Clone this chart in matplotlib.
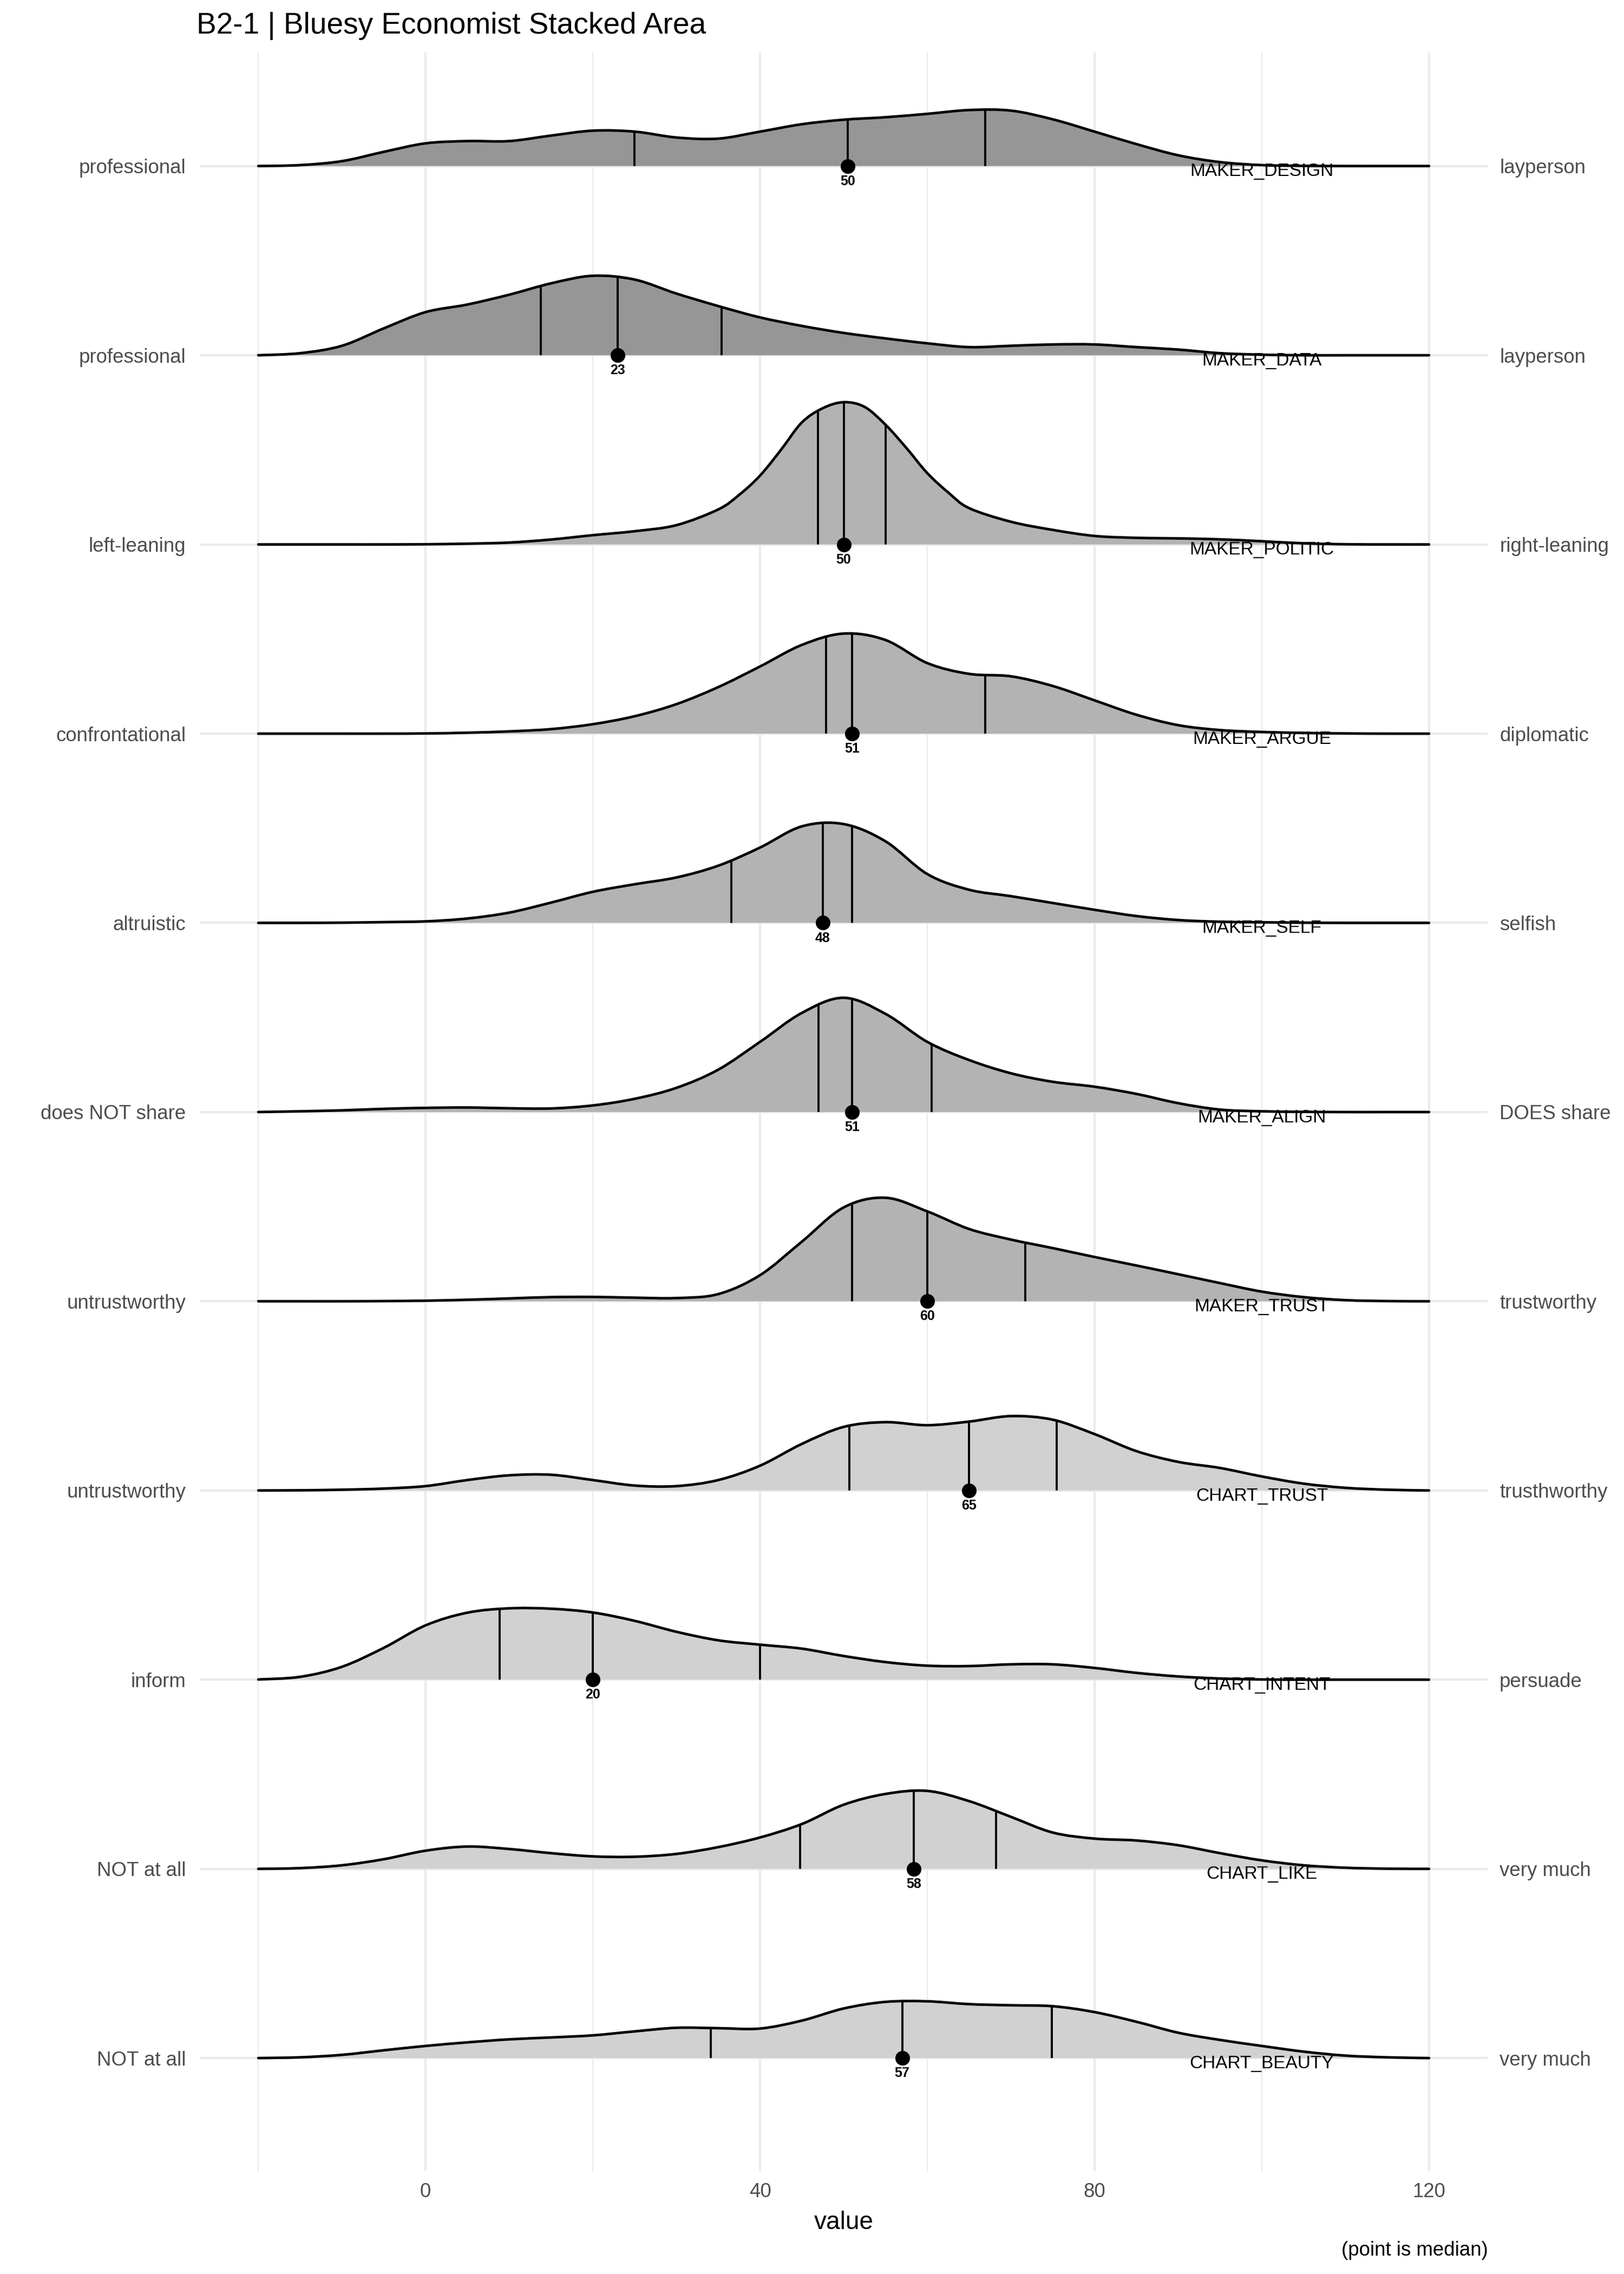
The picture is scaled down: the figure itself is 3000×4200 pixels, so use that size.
import numpy as np
import matplotlib
matplotlib.use("Agg")
import matplotlib.pyplot as plt
from matplotlib.path import Path
from matplotlib.patches import PathPatch

plt.rcParams['font.family'] = ['Liberation Sans', 'DejaVu Sans']

# rows from top to bottom
categories = ["MAKER_DESIGN", "MAKER_DATA", "MAKER_POLITIC", "MAKER_ARGUE", "MAKER_SELF",
              "MAKER_ALIGN", "MAKER_TRUST", "CHART_TRUST", "CHART_INTENT", "CHART_LIKE",
              "CHART_BEAUTY"]
left_labels = ["professional", "professional", "left-leaning", "confrontational", "altruistic",
               "does NOT share", "untrustworthy", "untrustworthy", "inform", "NOT at all",
               "NOT at all"]
right_labels = ["layperson", "layperson", "right-leaning", "diplomatic", "selfish",
                "DOES share", "trustworthy", "trusthworthy", "persuade", "very much",
                "very much"]
fills = ["#969696", "#969696", "#B3B3B3", "#B3B3B3", "#B3B3B3", "#B3B3B3", "#B3B3B3",
         "#D1D1D1", "#D1D1D1", "#D1D1D1", "#D1D1D1"]

# density heights (in row units) read at x = -20, -15, ..., 120
grid_x = list(range(-20, 125, 5))
design_h = [0, 0.005, 0.026, 0.075, 0.12, 0.132, 0.132, 0.161, 0.187, 0.182, 0.151, 0.145,
            0.182, 0.221, 0.245, 0.258, 0.276, 0.296, 0.293, 0.247, 0.182, 0.116, 0.057,
            0.021, 0.005, 0.001, 0, 0, 0]
data_h = [0, 0.011, 0.05, 0.142, 0.228, 0.268, 0.32, 0.38, 0.42, 0.40, 0.326, 0.26, 0.20,
          0.155, 0.118, 0.089, 0.063, 0.043, 0.05, 0.057, 0.057, 0.043, 0.03, 0.011, 0.003,
          0, 0, 0, 0]
politic_x = [-20, -15, -10, -5, 0, 5, 10, 15, 20, 25, 30, 35, 37.5, 40, 42.5, 45, 47.5, 50,
             52.5, 55, 57.5, 60, 62.5, 65, 70, 75, 80, 85, 90, 95, 100, 105, 110, 115, 120]
politic_h = [0, 0, 0, 0, 0.001, 0.004, 0.01, 0.026, 0.049, 0.07, 0.102, 0.185, 0.262,
             0.364, 0.50, 0.645, 0.72, 0.752, 0.727, 0.633, 0.51, 0.377, 0.275, 0.192, 0.12,
             0.077, 0.045, 0.035, 0.032, 0.027, 0.017, 0.006, 0.001, 0, 0]
argue_h = [0, 0, 0, 0, 0.001, 0.005, 0.012, 0.024, 0.05, 0.092, 0.156, 0.246, 0.355, 0.469,
           0.529, 0.495, 0.373, 0.316, 0.303, 0.252, 0.176, 0.10, 0.045, 0.019, 0.009,
           0.004, 0.001, 0, 0]
self_h = [0, 0, 0.001, 0.004, 0.008, 0.023, 0.054, 0.107, 0.164, 0.204, 0.24, 0.302, 0.398,
          0.51, 0.522, 0.431, 0.258, 0.175, 0.141, 0.105, 0.069, 0.036, 0.015, 0.006, 0.003,
          0.001, 0, 0, 0]
align_h = [0, 0.004, 0.009, 0.017, 0.022, 0.024, 0.02, 0.019, 0.035, 0.07, 0.128, 0.224,
           0.371, 0.524, 0.604, 0.519, 0.371, 0.275, 0.205, 0.16, 0.134, 0.096, 0.047, 0.013,
           0.004, 0.001, 0, 0, 0]
maker_trust_h = [0, 0, 0, 0.001, 0.003, 0.008, 0.015, 0.022, 0.023, 0.019, 0.017, 0.038,
                 0.138, 0.315, 0.496, 0.547, 0.475, 0.382, 0.326, 0.281, 0.234, 0.189, 0.143,
                 0.096, 0.051, 0.022, 0.006, 0.001, 0]
chart_trust_h = [0, 0.001, 0.004, 0.01, 0.023, 0.055, 0.08, 0.083, 0.055, 0.026, 0.023,
                 0.055, 0.131, 0.246, 0.336, 0.361, 0.345, 0.364, 0.393, 0.374, 0.298, 0.208,
                 0.151, 0.119, 0.074, 0.036, 0.014, 0.004, 0]
intent_h = [0.001, 0.015, 0.068, 0.168, 0.287, 0.354, 0.377, 0.375, 0.355, 0.311, 0.253,
            0.208, 0.185, 0.164, 0.125, 0.093, 0.074, 0.072, 0.081, 0.081, 0.062, 0.036,
            0.017, 0.006, 0.001, 0, 0, 0, 0]
like_h = [0, 0.004, 0.019, 0.051, 0.096, 0.118, 0.105, 0.083, 0.066, 0.064, 0.079, 0.115,
          0.166, 0.237, 0.339, 0.396, 0.412, 0.358, 0.275, 0.192, 0.16, 0.15, 0.125, 0.083,
          0.045, 0.019, 0.006, 0.001, 0]
beauty_h = [0, 0.004, 0.017, 0.041, 0.064, 0.083, 0.099, 0.109, 0.12, 0.141, 0.16, 0.158,
            0.156, 0.198, 0.262, 0.297, 0.30, 0.285, 0.279, 0.274, 0.243, 0.192, 0.134,
            0.096, 0.064, 0.034, 0.013, 0.004, 0]

q1 = [25.0, 13.75, 46.9, 47.9, 36.6, 47.0, 51.0, 50.7, 8.85, 44.8, 34.1]
medians = [50.5, 23.0, 50.0, 51.0, 47.5, 51.0, 60.0, 65.0, 20.0, 58.4, 57.0]
q3 = [66.9, 35.4, 55.0, 66.9, 51.0, 60.5, 71.7, 75.5, 40.0, 68.2, 74.9]
median_labels = ["50", "23", "50", "51", "48", "51", "60", "65", "20", "58", "57"]

xs_list = [grid_x, grid_x, politic_x] + [grid_x] * 8
hs_list = [design_h, data_h, politic_h, argue_h, self_h, align_h, maker_trust_h,
           chart_trust_h, intent_h, like_h, beauty_h]


def ridge_path(xs, hs, base):
    # smooth curve through the read points (Catmull-Rom as cubic Bezier)
    pts = np.column_stack([np.asarray(xs, float), base + np.asarray(hs, float)])
    n = len(pts)
    verts = [pts[0]]
    codes = [Path.MOVETO]
    for i in range(n - 1):
        p0 = pts[max(i - 1, 0)]
        p1 = pts[i]
        p2 = pts[i + 1]
        p3 = pts[min(i + 2, n - 1)]
        verts += [p1 + (p2 - p0) / 6, p2 - (p3 - p1) / 6, p2]
        codes += [Path.CURVE4] * 3
    return verts, codes


fig = plt.figure(figsize=(10, 14), dpi=300)
ax = fig.add_axes([0.123, 0.0452, 0.793, 0.9317])
n_rows = len(categories)
rows = [n_rows - 1 - i for i in range(n_rows)]

ax.set_xlim(-27, 127)
ax.set_ylim(-0.598, 10.6)
ax.set_xticks([0, 40, 80, 120])
ax.set_xticks([-20, 20, 60, 100], minor=True)
ax.set_yticks(rows)
ax.set_yticklabels(left_labels)
ax.grid(which='major', color='#EBEBEB', linewidth=1.07)
ax.grid(which='minor', axis='x', color='#EBEBEB', linewidth=0.53)
ax.set_axisbelow(True)
for s in ax.spines.values():
    s.set_visible(False)
ax.tick_params(which='both', length=0)
ax.tick_params(axis='y', pad=6.2, labelsize=8.8, labelcolor='#4D4D4D')
ax.tick_params(axis='x', pad=5, labelsize=8.8, labelcolor='#4D4D4D')
ax.set_xlabel('value', fontsize=11, labelpad=4)

for i in range(n_rows):
    base = rows[i]
    verts, codes = ridge_path(xs_list[i], hs_list[i], base)
    fverts = verts + [(xs_list[i][-1], base), (xs_list[i][0], base), (0, 0)]
    fcodes = codes + [Path.LINETO, Path.LINETO, Path.CLOSEPOLY]
    area = PathPatch(Path(fverts, fcodes), facecolor=fills[i], edgecolor='none', zorder=2)
    ax.add_patch(area)
    for q in (q1[i], medians[i], q3[i]):
        ln, = ax.plot([q, q], [base, base + 1], color='black', lw=0.95, zorder=3)
        ln.set_clip_path(area)
    ax.add_patch(PathPatch(Path(verts, codes), fill=False, edgecolor='black',
                           lw=1.15, zorder=4, capstyle='round'))
    ax.plot(medians[i], base, 'o', color='black', ms=5.5, zorder=5, clip_on=False)
    ax.text(medians[i], base - 0.046, median_labels[i], ha='center', va='top',
            fontsize=6, fontweight='bold', zorder=5)
    ax.text(100, base + 0.015, categories[i], ha='center', va='top', fontsize=8,
            color='black', zorder=5)

ax2 = ax.twinx()
ax2.set_ylim(ax.get_ylim())
ax2.set_yticks(rows)
ax2.set_yticklabels(right_labels)
for s in ax2.spines.values():
    s.set_visible(False)
ax2.tick_params(length=0, pad=5.3, labelsize=8.8, labelcolor='#4D4D4D')

fig.text(0.121, 1 - 62 / 4200, 'B2-1 | Bluesy Economist Stacked Area', fontsize=13.2,
         ha='left', va='baseline')
fig.text(2749 / 3000, 1 - 4157 / 4200, '(point is median)', fontsize=8.8, ha='right',
         va='center')

fig.savefig('out.png', dpi=300)
